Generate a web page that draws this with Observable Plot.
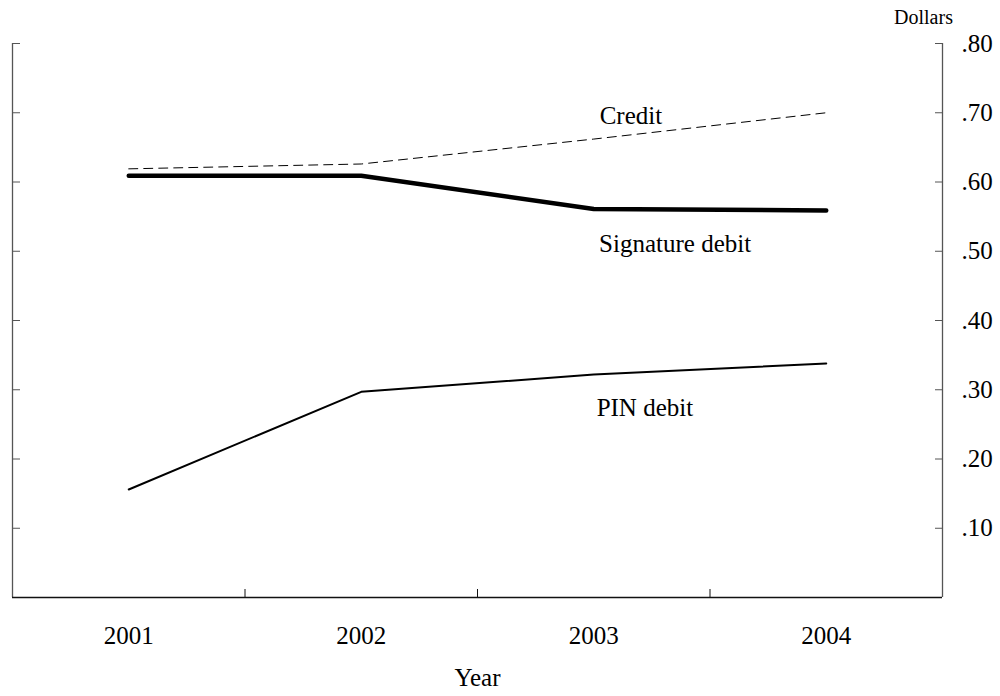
<!DOCTYPE html>
<html>
<head>
<meta charset="utf-8">
<script src="https://cdn.jsdelivr.net/npm/d3@7"></script>
<script src="https://cdn.jsdelivr.net/npm/@observablehq/plot@0.6"></script>
<style>
  html, body { margin: 0; padding: 0; background: #fff; }
  #chart { width: 1000px; height: 696px; }
</style>
</head>
<body>
<div id="chart"></div>
<script>
const years = [2001, 2002, 2003, 2004];
const credit = [0.619, 0.626, 0.662, 0.700];
const signatureDebit = [0.609, 0.609, 0.561, 0.559];
const pinDebit = [0.156, 0.297, 0.322, 0.338];
const yTicks = [0.1, 0.2, 0.3, 0.4, 0.5, 0.6, 0.7, 0.8];
const xDividers = [2001.5, 2002.5, 2003.5];
const seriesLabels = ["Credit", "Signature debit", "PIN debit"];
const labelX = [2003.16, 2003.35, 2003.22];
const labelY = [0.695, 0.511, 0.274];

const toRows = vals => years.map((yr, i) => ({year: yr, value: vals[i]}));
const labels = seriesLabels.map((t, i) => ({text: t, x: labelX[i], y: labelY[i]}));
const fmt = d => d.toFixed(2).replace(/^0/, "");

const plot = Plot.plot({
  width: 1000,
  height: 696,
  marginLeft: 12,
  marginRight: 58,
  marginTop: 43,
  marginBottom: 99,
  style: {fontFamily: "'Liberation Serif', 'Times New Roman', serif", fontSize: "25px", color: "#000", background: "#fff"},
  x: {domain: [2000.5, 2004.5]},
  y: {domain: [0, 0.8]},
  marks: [
    Plot.ruleX([2000.5, 2004.5], {y1: 0, y2: 0.8, stroke: "#555", strokeWidth: 1.3}),
    Plot.ruleY([0], {stroke: "#111", strokeWidth: 1.5}),
    Plot.axisY({anchor: "right", ticks: yTicks.slice(), tickSize: 0, tickPadding: 19, tickFormat: fmt, label: null, fontSize: 25}),
    Plot.axisY({anchor: "right", ticks: yTicks.slice(), tickSize: 8, insetRight: 8, tickFormat: () => "", label: null, stroke: "#555"}),
    Plot.axisY({anchor: "left", ticks: yTicks.slice(), tickSize: 8, insetLeft: 8, tickFormat: () => "", label: null, stroke: "#555"}),
    Plot.axisX({anchor: "bottom", ticks: years, tickSize: 0, tickPadding: 29, tickFormat: d => String(d), label: null, fontSize: 25}),
    Plot.axisX({anchor: "bottom", ticks: xDividers, tickSize: 8, insetBottom: 8, tickFormat: () => "", label: null, stroke: "#111"}),
    Plot.line(toRows(credit), {x: "year", y: "value", stroke: "#000", strokeWidth: 1, strokeDasharray: "9,6"}),
    Plot.line(toRows(signatureDebit), {x: "year", y: "value", stroke: "#000", strokeWidth: 4.5, strokeLinecap: "round"}),
    Plot.line(toRows(pinDebit), {x: "year", y: "value", stroke: "#000", strokeWidth: 2}),
    Plot.text(labels, {x: "x", y: "y", text: "text", fontSize: 25, fill: "#000"}),
    Plot.text(["Dollars"], {frameAnchor: "top-right", dx: -19, dy: -34, textAnchor: "middle", fontSize: 20, fill: "#000", text: d => d}),
    Plot.text(["Year"], {frameAnchor: "bottom", dy: 88, fontSize: 25, fill: "#000", text: d => d})
  ]
});
document.getElementById("chart").appendChild(plot);
</script>
</body>
</html>
